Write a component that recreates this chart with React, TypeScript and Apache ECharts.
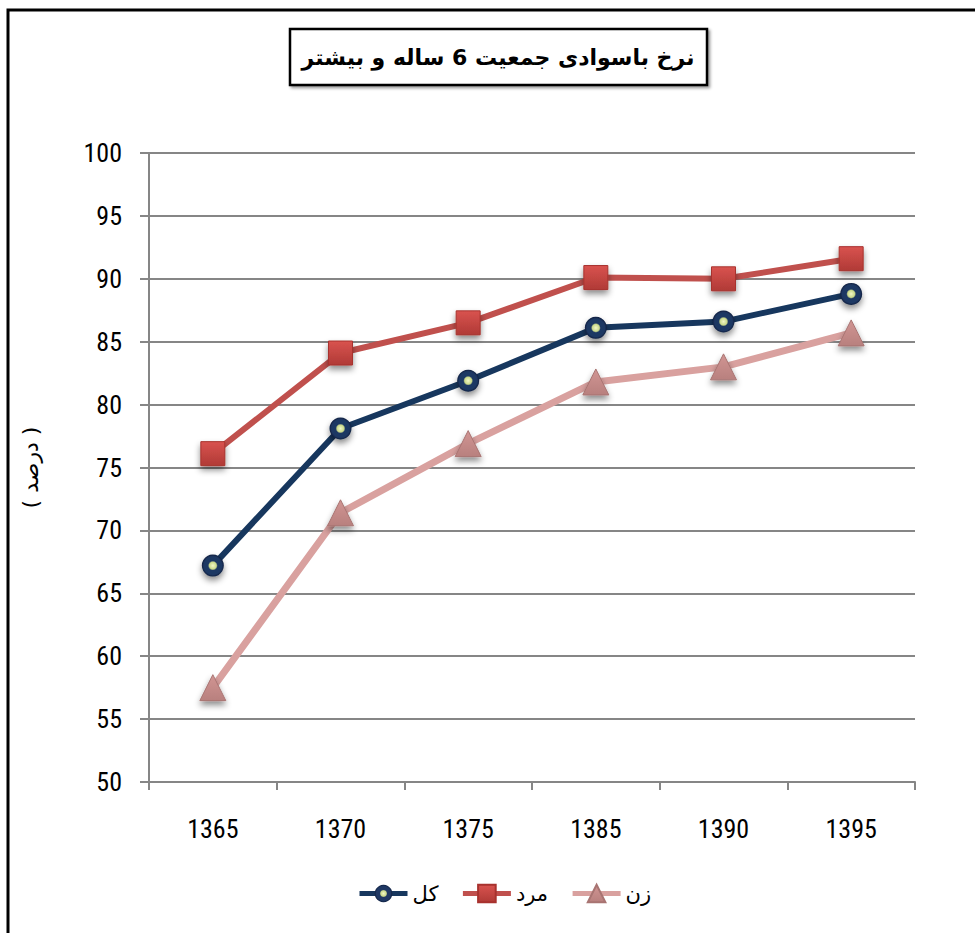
import React, { useEffect, useRef } from "react";
import * as echarts from "echarts";

const years = ["1365", "1370", "1375", "1385", "1390", "1395"];
const totalValues = [67.2, 78.1, 81.9, 86.1, 86.6, 88.8];
const maleValues = [76.1, 84.1, 86.5, 90.1, 90.0, 91.6];
const femaleValues = [57.5, 71.4, 76.9, 81.8, 83.0, 85.7];
const seriesNames = ["کل", "مرد", "زن"];
const titleText = "نرخ باسوادی جمعیت 6 ساله و بیشتر";
const yAxisName = "( درصد )";

const numFont = "'Liberation Sans Narrow', 'Roboto Condensed', Roboto, sans-serif";
const arFont = "'DejaVu Sans', 'Noto Sans', sans-serif";

export default function App() {
  const ref = useRef<HTMLDivElement>(null);
  useEffect(() => {
    if (!ref.current) return;
    const chart = echarts.init(ref.current, undefined, { renderer: "svg" });
    const shadow = {
      shadowColor: "rgba(0,0,0,0.45)",
      shadowBlur: 6,
      shadowOffsetY: 4,
    };
    chart.setOption({
      animation: false,
      backgroundColor: "#ffffff",
      grid: { left: 149, right: 60, top: 153, bottom: 151, containLabel: false },
      legend: {
        data: seriesNames,
        left: 352,
        top: 878,
        itemWidth: 48,
        itemHeight: 22,
        itemGap: 22,
        lineStyle: { width: 5 },
        textStyle: { fontFamily: arFont, fontSize: 21, color: "#000" },
      },
      xAxis: {
        type: "category",
        data: years,
        boundaryGap: true,
        axisLine: { lineStyle: { color: "#868686", width: 2 } },
        axisTick: { show: true, length: 8, lineStyle: { color: "#868686", width: 2 } },
        axisLabel: { margin: 34, fontFamily: numFont, fontSize: 26, color: "#000" },
        splitLine: { show: false },
      },
      yAxis: {
        type: "value",
        min: 50,
        max: 100,
        interval: 5,
        name: yAxisName,
        nameLocation: "middle",
        nameRotate: 90,
        nameGap: 108,
        nameTextStyle: { fontFamily: arFont, fontSize: 22, color: "#000" },
        axisLine: { show: true, lineStyle: { color: "#868686", width: 2 } },
        axisTick: { show: true, length: 9, lineStyle: { color: "#868686", width: 2 } },
        axisLabel: { margin: 27, fontFamily: numFont, fontSize: 26, color: "#000" },
        splitLine: { show: true, lineStyle: { color: "#868686", width: 2 } },
      },
      graphic: [
        {
          type: "rect",
          shape: { x: 8, y: 10, width: 1100, height: 1100 },
          style: { fill: "none", stroke: "#000", lineWidth: 3 },
          z: 100,
        },
        {
          type: "rect",
          shape: { x: 290, y: 29, width: 417, height: 56 },
          style: { fill: "#fff", stroke: "#000", lineWidth: 2.5, shadowColor: "rgba(0,0,0,0.4)", shadowBlur: 3, shadowOffsetX: 2, shadowOffsetY: 2 },
          z: 100,
        },
        {
          type: "text",
          x: 498,
          y: 57,
          style: {
            text: titleText,
            fontFamily: arFont,
            fontWeight: "bold",
            fontSize: 22,
            fill: "#000",
            align: "center",
            verticalAlign: "middle",
          },
          z: 101,
        },
      ],
      series: [
        {
          name: seriesNames[0],
          type: "line",
          data: totalValues,
          z: 4,
          lineStyle: { color: "#17375E", width: 6 },
          symbol: "circle",
          symbolSize: 22,
          itemStyle: {
            color: {
              type: "radial",
              x: 0.5,
              y: 0.5,
              r: 0.5,
              colorStops: [
                { offset: 0, color: "#F2F7C8" },
                { offset: 0.32, color: "#C9D98A" },
                { offset: 0.44, color: "#1F3864" },
                { offset: 0.8, color: "#1F3864" },
                { offset: 1, color: "#0F2040" },
              ],
            },
            borderWidth: 0,
            ...shadow,
          },
        },
        {
          name: seriesNames[1],
          type: "line",
          data: maleValues,
          z: 3,
          lineStyle: { color: "#C0504D", width: 6 },
          symbol: "rect",
          symbolSize: 24,
          itemStyle: {
            color: {
              type: "linear",
              x: 0,
              y: 0,
              x2: 0,
              y2: 1,
              colorStops: [
                { offset: 0, color: "#D9534F" },
                { offset: 1, color: "#B03A36" },
              ],
            },
            borderColor: "#A8322E",
            borderWidth: 1,
            ...shadow,
          },
        },
        {
          name: seriesNames[2],
          type: "line",
          data: femaleValues,
          z: 2,
          lineStyle: { color: "#D9A19F", width: 7 },
          symbol: "triangle",
          symbolSize: 26,
          itemStyle: {
            color: {
              type: "linear",
              x: 0,
              y: 0,
              x2: 0,
              y2: 1,
              colorStops: [
                { offset: 0, color: "#D19593" },
                { offset: 1, color: "#B8807E" },
              ],
            },
            borderColor: "#A87472",
            borderWidth: 1,
            ...shadow,
          },
        },
      ],
    });
    return () => chart.dispose();
  }, []);
  return <div ref={ref} style={{ width: 975, height: 933, position: "absolute", left: 0, top: 0 }} />;
}
